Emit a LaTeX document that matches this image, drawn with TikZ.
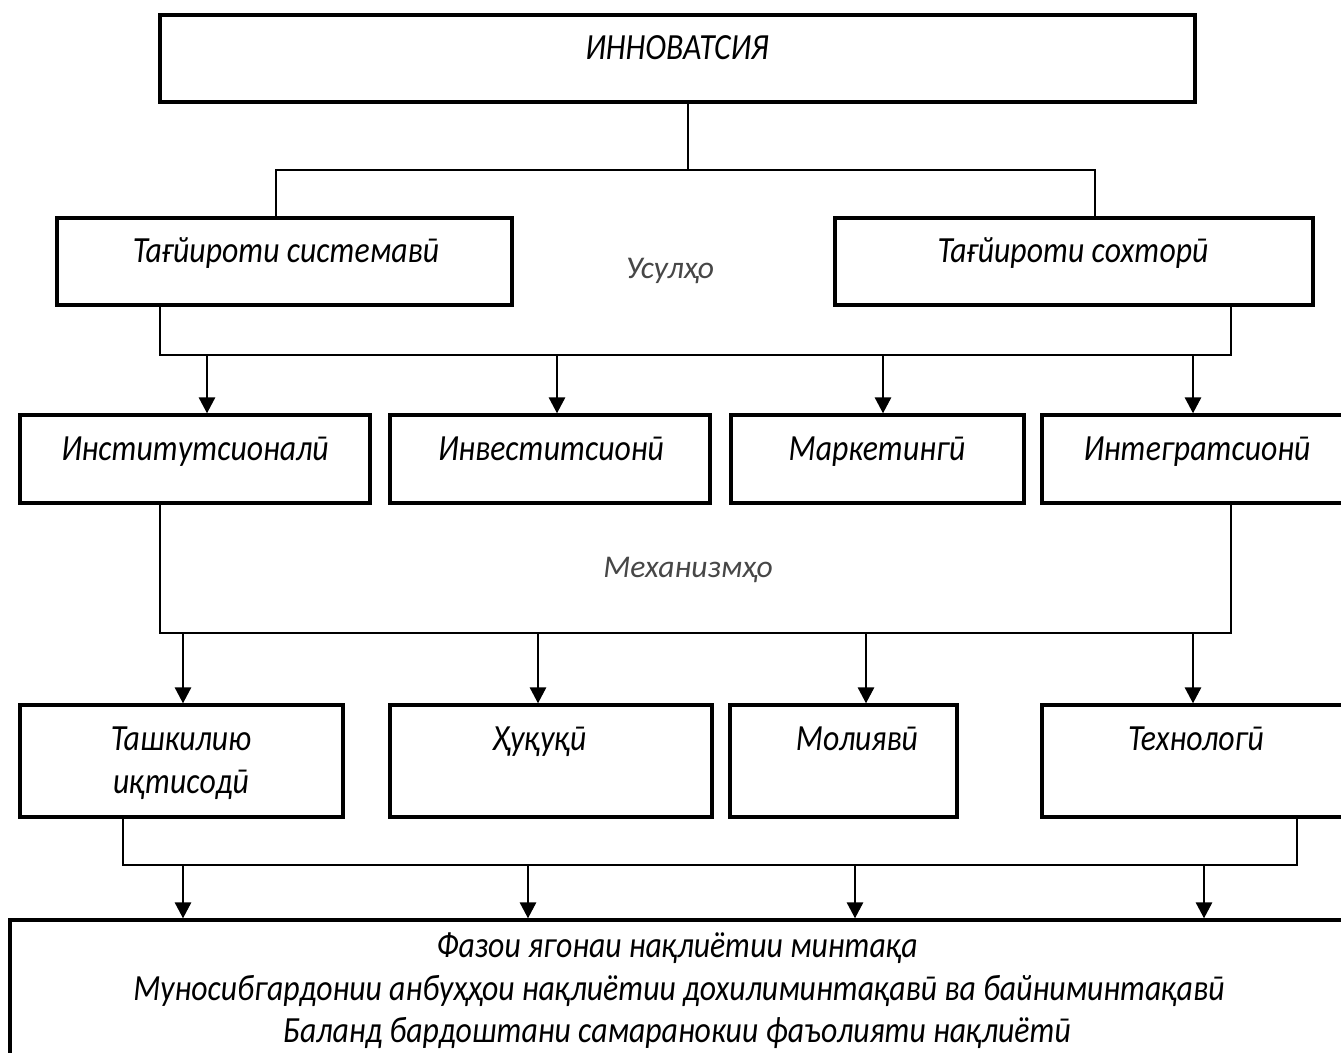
\documentclass[tikz,border=0pt]{standalone}
\usepackage{fontspec}
\usepackage{graphicx}
\setmainfont{Carlito}
\usetikzlibrary{arrows.meta}
\newcommand\narrowtxt[1]{\scalebox{0.86}[1]{#1}}
\begin{document}
\begin{tikzpicture}[x=0.02cm,y=-0.02cm,
  box/.style={draw,line width=2pt,rectangle,inner sep=0pt},
  conn/.style={line width=0.9pt},
  arr/.style={line width=0.9pt,-{Triangle[width=0.33cm,length=0.32cm]}},
  lbl/.style={font=\fontsize{21}{25}\selectfont\itshape,inner sep=0pt,anchor=base},
  soft/.style={font=\fontsize{18}{22}\selectfont\itshape,inner sep=0pt,text=black!72,anchor=base}]
\useasboundingbox (0,0) rectangle (1341,1052);
% boxes
\node[box,minimum width=20.7cm,minimum height=1.74cm] (top) at (677.5,58.5) {};
\node[box,minimum width=9.1cm,minimum height=1.74cm] (sys) at (284.5,261.5) {};
\node[box,minimum width=9.56cm,minimum height=1.74cm] (str) at (1074,261.5) {};
\node[box,minimum width=7.0cm,minimum height=1.76cm] (inst) at (195,459) {};
\node[box,minimum width=6.4cm,minimum height=1.76cm] (inv) at (550,459) {};
\node[box,minimum width=5.86cm,minimum height=1.76cm] (mar) at (877.5,459) {};
\node[box,minimum width=6.24cm,minimum height=1.76cm] (int) at (1198,459) {};
\node[box,minimum width=6.46cm,minimum height=2.24cm] (tash) at (181.5,761) {};
\node[box,minimum width=6.44cm,minimum height=2.24cm] (huq) at (551,761) {};
\node[box,minimum width=4.54cm,minimum height=2.24cm] (mol) at (843.5,761) {};
\node[box,minimum width=6.24cm,minimum height=2.24cm] (tex) at (1198,761) {};
\node[box,minimum width=26.8cm,minimum height=3.4cm] (bot) at (680,1005) {};
% texts
\node[lbl] (ttop) at (677,59) {\narrowtxt{ИННОВАТСИЯ}};
\node[lbl] (tsys) at (286,262) {\narrowtxt{Тағйироти системавӣ}};
\node[lbl] (tstr) at (1073,262) {\narrowtxt{Тағйироти сохторӣ}};
\node[soft] (usul) at (670,278) {Усулҳо};
\node[lbl] (tinst) at (195,460) {\narrowtxt{Институтсионалӣ}};
\node[lbl] (tinv) at (551,460) {\narrowtxt{Инвеститсионӣ}};
\node[lbl] (tmar) at (877,460) {\narrowtxt{Маркетингӣ}};
\node[lbl] (tint) at (1197,460) {\narrowtxt{Интегратсионӣ}};
\node[soft] (mex) at (688,577) {Механизмҳо};
\node[lbl] (ttash1) at (181,750) {\narrowtxt{Ташкилию}};
\node[lbl] (ttash2) at (181,793) {\narrowtxt{иқтисодӣ}};
\node[lbl] (thuq) at (540,750) {\narrowtxt{Ҳуқуқӣ}};
\node[lbl] (tmol) at (857,750) {\narrowtxt{Молиявӣ}};
\node[lbl] (ttex) at (1196,750) {\narrowtxt{Технологӣ}};
\node[lbl] (tb1) at (677,957) {\narrowtxt{Фазои ягонаи нақлиётии минтақа}};
\node[lbl] (tb2) at (679,1000) {\narrowtxt{Муносибгардонии анбуҳҳои нақлиётии дохилиминтақавӣ ва байниминтақавӣ}};
\node[lbl] (tb3) at (677,1042) {\narrowtxt{Баланд бардоштани самаранокии фаъолияти нақлиётӣ}};
% level 1
\coordinate (j1) at (688,170);
\coordinate (h1l) at (276,170);
\coordinate (h1r) at (1095,170);
\draw[conn] (top.south -| j1) -- (j1);
\draw[conn] (sys.north -| h1l) -- (h1l) -- (h1r) -- (str.north -| h1r);
% level 2
\coordinate (h2l) at (160,355);
\coordinate (h2r) at (1231,355);
\draw[conn] (sys.south -| h2l) -- (h2l) -- (h2r) -- (str.south -| h2r);
\foreach \x/\n in {207/inst,557/inv,883/mar,1193/int}{
  \coordinate (a\n) at (\x,355);
  \draw[arr] (a\n) -- (a\n |- \n.north);
}
% level 3
\coordinate (h3l) at (160,633);
\coordinate (h3r) at (1231,633);
\draw[conn] (inst.south -| h3l) -- (h3l) -- (h3r) -- (int.south -| h3r);
\foreach \x/\n in {183/tash,538/huq,866/mol,1193/tex}{
  \coordinate (b\n) at (\x,633);
  \draw[arr] (b\n) -- (b\n |- \n.north);
}
% level 4
\coordinate (h4l) at (123,865);
\coordinate (h4r) at (1297,865);
\draw[conn] (tash.south -| h4l) -- (h4l) -- (h4r) -- (tex.south -| h4r);
\foreach \x/\i in {183/1,528/2,855/3,1204/4}{
  \coordinate (c\i) at (\x,865);
  \draw[arr] (c\i) -- (c\i |- bot.north);
}
\end{tikzpicture}
\end{document}
